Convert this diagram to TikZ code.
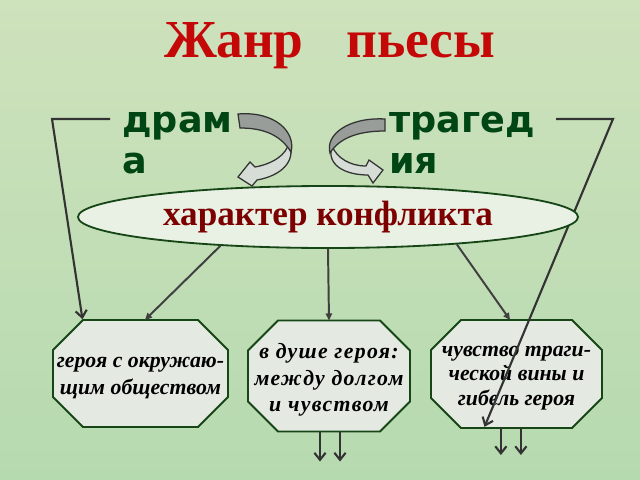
\documentclass[tikz,border=0pt]{standalone}
\usepackage{fontspec}
\setmainfont{Liberation Serif}
\newfontfamily\genrefont{DejaVu Sans}
\usetikzlibrary{shapes.geometric, arrows.meta}

\definecolor{bgtop}{RGB}{206,226,188}
\definecolor{bgbot}{RGB}{182,218,176}
\definecolor{titlered}{RGB}{196,8,8}
\definecolor{genregreen}{RGB}{0,70,20}
\definecolor{conflred}{RGB}{125,0,0}
\definecolor{boxline}{RGB}{22,70,22}
\definecolor{boxfill}{RGB}{228,233,226}
\definecolor{ovalfill}{RGB}{232,241,228}
\definecolor{curldark}{RGB}{152,157,154}
\definecolor{curllight}{RGB}{214,220,214}

\tikzset{
    pics/octagon/.style n args = {2}{code = {
        \draw[draw = boxline, fill = boxfill, line width = 1.3pt]
            ({-#1/2+30}, {-#2/2}) -- ({#1/2-30}, {-#2/2}) -- ({#1/2}, {-#2/2+30}) -- ({#1/2}, {#2/2-30})
            -- ({#1/2-30}, {#2/2}) -- ({-#1/2+30}, {#2/2}) -- ({-#1/2}, {#2/2-30}) -- ({-#1/2}, {-#2/2+30}) -- cycle;
        \coordinate (-top) at (0, {-#2/2});
        \coordinate (-bottom) at (0, {#2/2});
    }}
}

\begin{document}
\begin{tikzpicture}[x=0.025cm, y=-0.025cm,
    octtext/.style = {align = center, inner sep = 0pt, font = \fontsize{15.5}{19}\selectfont\bfseries\itshape},
    genre/.style = {anchor = base west, align = left, inner sep = 0pt, text = genregreen,
        font = \genrefont\bfseries\fontsize{26}{28.5}\selectfont},
    curl/.style = {draw = black!80, line width = 0.9pt},
    link/.style = {draw = black!75, line width = 1.4pt, -{Triangle[length = 5pt, width = 4.5pt]}},
    barb/.style = {draw = black!80, line width = 1.5pt, -{Straight Barb[length = 5pt, width = 8pt]}}]
        \useasboundingbox (0, 0) rectangle (640, 480);
        \shade[top color = bgtop, bottom color = bgbot] (0, 0) rectangle (640, 480);

        % Title and genres
        \node[text = titlered, font = \fontsize{38}{42}\selectfont\bfseries] (title) at (330, 46) {Жанр\hspace{0.8em}пьесы};
        \node[genre] (drama) at (122, 173) {драм\\а};
        \node[genre] (tragedy) at (389, 173) {трагед\\ия};

        % Octagons
        \pic (society) at (140.5, 373.5) {octagon = {175}{107}};
        \pic (soul) at (329, 376) {octagon = {162}{111}};
        \pic (guilt) at (516.5, 374) {octagon = {171}{108}};
        \node[octtext] (societytext) at (140.5, 378) {героя с окружаю-\\щим обществом};
        \node[octtext, font = \fontsize{15.5}{18.8}\selectfont\bfseries\itshape\addfontfeatures{LetterSpace = 6}]
            (soultext) at (329, 380) {в душе героя:\\между долгом\\и чувством};
        \node[octtext, font = \fontsize{15.5}{17.5}\selectfont\bfseries\itshape]
            (guilttext) at (516.5, 378) {чувство траги-\\ческой вины и\\гибель героя};

        % Side brackets
        \coordinate (dramcorner) at (52, 119);
        \coordinate (tragcorner) at (613, 119);
        \draw[barb] (110, 119) -- (dramcorner) -- ([xshift = -1.45cm, yshift = 0.02cm]society-top);
        \draw[barb] (556, 119) -- (tragcorner) -- ([xshift = -0.8cm, yshift = 0.03cm]guilt-bottom);

        % Conflict oval
        \node[ellipse, draw = boxline, fill = ovalfill, line width = 1.3pt, minimum width = 12.5cm,
            minimum height = 1.55cm, inner sep = 0pt, text = conflred,
            font = \fontsize{25}{28}\selectfont\bfseries] (conflict) at (328, 217) {характер конфликта};

        \draw[link] (conflict.-165) -- ([xshift = 0.11cm]society-top);
        \draw[link] (conflict.south) -- (soul-top);
        \draw[link] (conflict.-12) -- ([xshift = -0.16cm]guilt-top);

        % Down arrows
        \foreach \dx in {-0.225, 0.275}
            \draw[barb] ([xshift = \dx cm]soul-bottom) -- ++(0, 30);
        \foreach \dx in {-0.39, 0.11}
            \draw[barb] ([xshift = \dx cm]guilt-bottom) -- ++(0, 27);

        % Curved arrows
        \path[curl, fill = curllight] (289, 142) .. controls (297, 162) and (280, 176) .. (257, 180) -- (252, 186)
            -- (238, 177) -- (250, 162) -- (255, 167) .. controls (272, 164) and (287, 155) .. (289, 142) -- cycle;
        \path[curl, fill = curldark] (238, 114) .. controls (275, 111) and (296, 132) .. (291, 152)
            .. controls (280, 134) and (262, 128) .. (240, 128) -- cycle;
        \path[curl, fill = curllight] (332, 146) .. controls (326, 165) and (345, 175) .. (368, 175) -- (373, 183)
            -- (383, 170) -- (369, 160) -- (366, 166) .. controls (350, 166) and (337, 158) .. (332, 146) -- cycle;
        \path[curl, fill = curldark] (385, 119) .. controls (348, 117) and (325, 135) .. (330, 153)
            .. controls (340, 137) and (360, 131) .. (385, 131) -- cycle;
    \end{tikzpicture}
\end{document}
